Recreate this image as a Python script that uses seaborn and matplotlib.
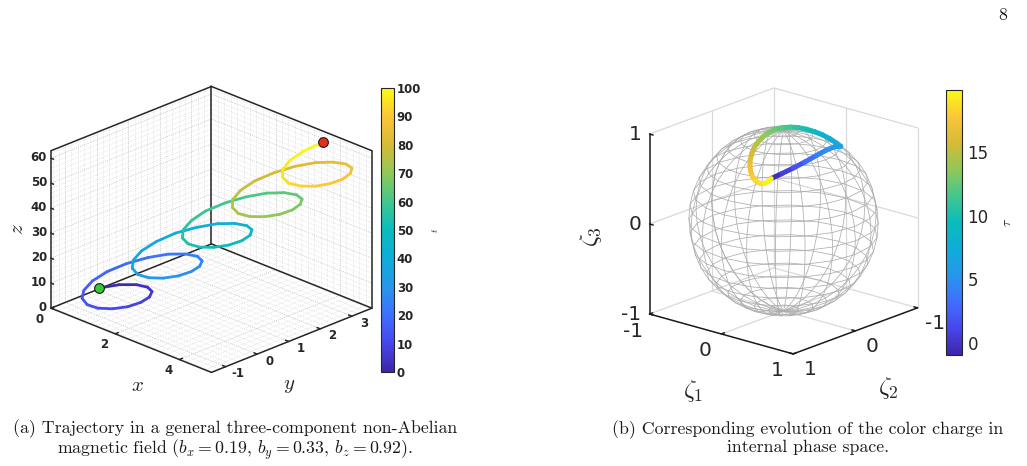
import numpy as np
import matplotlib
matplotlib.use("Agg")
import matplotlib.pyplot as plt
from matplotlib.colors import Normalize
from matplotlib.cm import ScalarMappable
from mpl_toolkits.mplot3d import proj3d
from mpl_toolkits.mplot3d.art3d import Line3DCollection
import seaborn as sns

sns.set_theme(style="white")
plt.rcParams["font.family"] = ["DejaVu Sans"]
plt.rcParams["mathtext.fontset"] = "cm"
plt.rcParams["axes.unicode_minus"] = False

traj_x = [1.18, 1.61, 2.01, 2.32, 2.50, 2.53, 2.40, 2.15, 1.81, 1.44, 1.11, 0.87, 0.76, 0.80, 0.99, 1.31,
          1.72, 2.15, 2.56, 2.87, 3.06, 3.09, 2.97, 2.72, 2.39, 2.02, 1.69, 1.44, 1.32, 1.35, 1.54, 1.85,
          2.26, 2.69, 3.10, 3.42, 3.61, 3.65, 3.54, 3.29, 2.96, 2.60, 2.26, 2.01, 1.88, 1.91, 2.08, 2.40,
          2.80, 3.23, 3.64, 3.97, 4.17, 4.21, 4.11, 3.87, 3.54, 3.17, 2.83, 2.58, 2.44, 2.46, 2.63, 2.94,
          3.34, 3.77, 4.18, 4.51, 4.72, 4.77, 4.68, 4.44, 4.12, 3.75, 3.41, 3.15, 3.01, 3.02, 3.18, 3.48]
traj_y = [-1.13, -0.92, -0.79, -0.75, -0.79, -0.90, -1.05, -1.21, -1.34, -1.43, -1.43, -1.35, -1.18, -0.95,
          -0.67, -0.39, -0.12, 0.09, 0.22, 0.27, 0.23, 0.12, -0.03, -0.19, -0.32, -0.41, -0.42, -0.34,
          -0.18, 0.05, 0.33, 0.62, 0.88, 1.09, 1.23, 1.28, 1.25, 1.15, 1.00, 0.84, 0.70, 0.61, 0.60, 0.67,
          0.83, 1.06, 1.33, 1.62, 1.88, 2.10, 2.24, 2.30, 2.27, 2.17, 2.02, 1.86, 1.72, 1.63, 1.61, 1.68,
          1.83, 2.06, 2.33, 2.62, 2.89, 3.11, 3.25, 3.31, 3.29, 3.19, 3.04, 2.88, 2.74, 2.64, 2.62, 2.69,
          2.84, 3.06, 3.33, 3.62]
traj_z = [12.5, 15.0, 16.4, 16.8, 16.2, 14.7, 12.6, 10.4, 8.5, 7.3, 7.0, 7.9, 9.7, 12.5, 15.8, 19.2,
          22.4, 24.9, 26.4, 26.8, 26.2, 24.7, 22.7, 20.5, 18.6, 17.3, 17.0, 17.8, 19.6, 22.3, 25.6, 29.1,
          32.2, 34.8, 36.3, 36.8, 36.3, 34.8, 32.8, 30.6, 28.7, 27.4, 27.0, 27.7, 29.5, 32.2, 35.5, 38.9,
          42.1, 44.7, 46.3, 46.8, 46.3, 44.9, 42.9, 40.7, 38.8, 37.4, 37.0, 37.7, 39.4, 42.1, 45.3, 48.7,
          52.0, 54.6, 56.2, 56.8, 56.4, 55.0, 53.0, 50.8, 48.8, 47.5, 47.0, 47.6, 49.3, 51.9, 55.1, 58.6]
traj_t = [0.0, 1.3, 2.5, 3.8, 5.1, 6.3, 7.6, 8.9, 10.1, 11.4, 12.7, 13.9, 15.2, 16.5, 17.7, 19.0,
          20.3, 21.5, 22.8, 24.1, 25.3, 26.6, 27.8, 29.1, 30.4, 31.6, 32.9, 34.2, 35.4, 36.7, 38.0, 39.2,
          40.5, 41.8, 43.0, 44.3, 45.6, 46.8, 48.1, 49.4, 50.6, 51.9, 53.2, 54.4, 55.7, 57.0, 58.2, 59.5,
          60.8, 62.0, 63.3, 64.6, 65.8, 67.1, 68.4, 69.6, 70.9, 72.2, 73.4, 74.7, 75.9, 77.2, 78.5, 79.7,
          81.0, 82.3, 83.5, 84.8, 86.1, 87.3, 88.6, 89.9, 91.1, 92.4, 93.7, 94.9, 96.2, 97.5, 98.7, 100.0]
x_ticks = [0, 2, 4]
y_ticks = [-1, 0, 1, 2, 3]
z_ticks = [0, 10, 20, 30, 40, 50, 60]
t_ticks = [0, 10, 20, 30, 40, 50, 60, 70, 80, 90, 100]

# (b) colour charge on the unit sphere
zeta1 = [0.357, 0.419, 0.472, 0.506, 0.511, 0.488, 0.438, 0.380, 0.330, 0.259, 0.183, 0.114, 0.042, -0.027,
         -0.068, -0.099, -0.119, -0.106, -0.095, -0.078, -0.053, -0.021, 0.018, 0.062, 0.111, 0.167,
         0.224, 0.281, 0.322, 0.347, 0.357]
zeta2 = [0.611, 0.512, 0.387, 0.240, 0.059, -0.127, -0.318, -0.481, -0.469, -0.444, -0.410, -0.370, -0.320,
         -0.267, -0.183, -0.085, 0.010, 0.120, 0.213, 0.313, 0.405, 0.485, 0.556, 0.612, 0.658, 0.691,
         0.703, 0.700, 0.678, 0.643, 0.611]
zeta3 = [0.706, 0.750, 0.792, 0.829, 0.857, 0.864, 0.841, 0.790, 0.819, 0.858, 0.894, 0.922, 0.947, 0.963,
         0.981, 0.991, 0.993, 0.987, 0.972, 0.947, 0.913, 0.874, 0.831, 0.788, 0.745, 0.703, 0.674, 0.657,
         0.660, 0.683, 0.706]
tau = [-0.95, 0.12, 1.29, 2.48, 3.69, 4.72, 5.53, 6.07, 6.57, 7.29, 8.07, 8.80, 9.59, 10.35, 11.11, 11.87,
       12.55, 13.17, 13.73, 14.37, 15.00, 15.59, 16.18, 16.73, 17.27, 17.82, 18.29, 18.75, 19.14, 19.56, 19.90]
zeta_ticks = [-1, 0, 1]
tau_ticks = [0, 5, 10, 15]

parula = sns.blend_palette([(0.242, 0.150, 0.660), (0.280, 0.278, 0.922), (0.244, 0.436, 0.999),
                            (0.154, 0.590, 0.922), (0.060, 0.680, 0.850), (0.040, 0.735, 0.740),
                            (0.260, 0.780, 0.560), (0.560, 0.785, 0.350), (0.840, 0.735, 0.210),
                            (0.990, 0.770, 0.220), (0.977, 0.984, 0.081)], n_colors=256, as_cmap=True)

fig = plt.figure(figsize=(10.27, 4.66), dpi=100)
labels = []


def line(ax, p, q, **kw):
    ax.plot([p[0], q[0]], [p[1], q[1]], [p[2], q[2]], **kw)


def lab(ax, p, s, dx, dy, **kw):
    labels.append((ax, p, s, dx, dy, kw))


def colored(ax, xs, ys, zs, c, norm, lw):
    pts = np.column_stack([xs, ys, zs])
    segs = np.stack([pts[:-1], pts[1:]], axis=1)
    lc = Line3DCollection(segs, cmap=parula, norm=norm, linewidths=lw, capstyle="round")
    lc.set_array((np.asarray(c)[:-1] + np.asarray(c)[1:]) / 2)
    ax.add_collection3d(lc)


# ---------------- (a) trajectory ----------------
x0, x1, y0, y1, zt0, zt1 = 0, 5, -1.45, 3.64, 0, 63
ax1 = fig.add_axes([0.0292, 0.1182, 0.3441, 0.7584], projection="3d", proj_type="ortho")
ax1.view_init(elev=23.6, azim=-45)
ax1.set_box_aspect((1, 1, 0.757))
ax1.computed_zorder = False
ax1.set_axis_off()

minor = dict(color="0.84", lw=0.5, ls=(0, (1, 1.5)))
major = dict(color="0.74", lw=0.5, ls=(0, (1.5, 1.5)))
for gx in np.arange(0, 5.01, 0.2):
    st = major if abs(gx - round(gx / 2) * 2) < 1e-6 else minor
    line(ax1, (gx, y0, 0), (gx, y1, 0), **st)
    line(ax1, (gx, y1, 0), (gx, y1, zt1), **st)
for gy in np.arange(-1.4, 3.61, 0.2):
    st = major if abs(gy - round(gy)) < 1e-6 else minor
    line(ax1, (x0, gy, 0), (x1, gy, 0), **st)
    line(ax1, (0, gy, 0), (0, gy, zt1), **st)
for gz in np.arange(2, 62.1, 2):
    st = major if gz % 10 == 0 else minor
    line(ax1, (0, y0, gz), (0, y1, gz), **st)
    line(ax1, (0, y1, gz), (x1, y1, gz), **st)

edge = dict(color="0.15", lw=1.1)
for p, q in [((0, y0, 0), (0, y0, zt1)), ((0, y1, 0), (0, y1, zt1)), ((x1, y1, 0), (x1, y1, zt1)),
             ((0, y0, zt1), (0, y1, zt1)), ((0, y1, zt1), (x1, y1, zt1)),
             ((0, y0, 0), (x1, y0, 0)), ((x1, y0, 0), (x1, y1, 0)),
             ((0, y0, 0), (0, y1, 0)), ((0, y1, 0), (x1, y1, 0))]:
    line(ax1, p, q, **edge)

tick_font = dict(fontsize=8.5, fontweight="bold", color="0.15")
for v in z_ticks:
    line(ax1, (0, y0, v), (0.08, y0, v), **edge)
    lab(ax1, (0, y0, v), str(v), -4, 1, ha="right", va="center", **tick_font)
for v in x_ticks:
    line(ax1, (v, y0, 0), (v, y0 + 0.1, 0), **edge)
    lab(ax1, (v, y0, 0), str(v), -11, -11, ha="center", va="center", **tick_font)
for v in y_ticks:
    line(ax1, (x1, v, 0), (x1 - 0.1, v, 0), **edge)
    lab(ax1, (x1, v, 0), str(v), 12, -7, ha="center", va="center", **tick_font)
lab(ax1, (2.5, y0, 0), "$x$", 6, -45, ha="center", va="center", fontsize=15, color="0.15")
lab(ax1, (x1, 1.1, 0), "$y$", -3, -45, ha="center", va="center", fontsize=15, color="0.15")
lab(ax1, (0, y0, 31.5), "$z$", -34, 0, ha="center", va="center", fontsize=15, color="0.15", rotation=90)

norm1 = Normalize(0, 100)
colored(ax1, traj_x, traj_y, traj_z, traj_t, norm1, 2.0)
ax1.plot(traj_x[:1], traj_y[:1], traj_z[:1], "o", ms=7, mfc=(0.22, 0.78, 0.22), mec="0.1", mew=0.8)
ax1.plot(traj_x[-1:], traj_y[-1:], traj_z[-1:], "o", ms=7, mfc=(0.90, 0.18, 0.12), mec="0.1", mew=0.8)
ax1.set_xlim(x0, x1); ax1.set_ylim(y0, y1); ax1.set_zlim(zt0, zt1)

cax1 = fig.add_axes([0.371, 0.2017, 0.01266, 0.6094])
cb1 = fig.colorbar(ScalarMappable(norm1, parula), cax=cax1, ticks=t_ticks)
cb1.outline.set_linewidth(0.8)
cax1.tick_params(direction="in", length=3, width=0.6, pad=2, labelsize=8.5, colors="0.15")
for tl in cax1.get_yticklabels():
    tl.set_fontweight("bold")
cb1.set_label("$t$", fontsize=7, rotation=90, labelpad=6)

# ---------------- (b) colour charge ----------------
ax2 = fig.add_axes([0.6032, 0.1738, 0.3111, 0.6856], projection="3d", proj_type="ortho")
ax2.view_init(elev=18.7, azim=-49.1)
ax2.set_box_aspect((1, 1, 1))
ax2.computed_zorder = False
ax2.set_axis_off()

grey = dict(color="0.85", lw=0.9)
for p, q in [((-1, 0, -1), (-1, 0, 1)), ((-1, 1, 0), (-1, -1, 0)), ((-1, 1, 1), (-1, -1, 1)),
             ((-1, -1, -1), (-1, -1, 1)), ((0, -1, -1), (0, -1, 1)), ((-1, -1, 0), (1, -1, 0)),
             ((-1, -1, 1), (1, -1, 1)), ((1, -1, -1), (1, -1, 1)), ((0, 1, -1), (0, -1, -1)),
             ((-1, 0, -1), (1, 0, -1)), ((-1, 1, -1), (-1, -1, -1)), ((-1, -1, -1), (1, -1, -1))]:
    line(ax2, p, q, **grey)
ax_edge = dict(color="0.1", lw=1.1)
line(ax2, (-1, 1, -1), (-1, 1, 1), **ax_edge)
line(ax2, (-1, 1, -1), (1, 1, -1), **ax_edge)
line(ax2, (1, 1, -1), (1, -1, -1), **ax_edge)

# reference unit sphere (20 x 20 mesh)
az = np.linspace(-np.pi, np.pi, 21)
el = np.linspace(-np.pi / 2, np.pi / 2, 21)
ax2.plot_wireframe(np.outer(np.cos(el), np.cos(az)), np.outer(np.cos(el), np.sin(az)),
                   np.outer(np.sin(el), np.ones_like(az)), color="0.68", lw=0.55)

big = dict(fontsize=14.5, color="0.15")
for v in zeta_ticks:
    line(ax2, (-1, 1, v), (-0.95, 1, v), **ax_edge)
    lab(ax2, (-1, 1, v), str(v), -8, 0, ha="right", va="center", **big)
    line(ax2, (v, 1, -1), (v, 0.95, -1), **ax_edge)
    lab(ax2, (v, 1, -1), str(v), -16, -17, ha="center", va="center", **big)
    line(ax2, (1, v, -1), (0.95, v, -1), **ax_edge)
    lab(ax2, (1, v, -1), str(v), 17, -16, ha="center", va="center", **big)
lab(ax2, (0, 1, -1), r"$\zeta_1$", -28, -57, ha="center", va="center", fontsize=18, color="0.15")
lab(ax2, (1, 0, -1), r"$\zeta_2$", 33, -57, ha="center", va="center", fontsize=18, color="0.15")
lab(ax2, (-1, 1, 0), r"$\zeta_3$", -59, -13, ha="center", va="center", fontsize=18, color="0.15", rotation=90)

norm2 = Normalize(-0.95, 19.9)
colored(ax2, zeta1, zeta2, zeta3, tau, norm2, 3.6)
ax2.set_xlim(-1, 1); ax2.set_ylim(1, -1); ax2.set_zlim(-1, 1)

cax2 = fig.add_axes([0.9211, 0.2382, 0.01558, 0.5687])
cb2 = fig.colorbar(ScalarMappable(norm2, parula), cax=cax2, ticks=tau_ticks)
cb2.outline.set_linewidth(0.8)
cax2.tick_params(direction="in", length=3, width=0.6, pad=4, labelsize=12, colors="0.15")
cb2.set_label(r"$\tau$", fontsize=10, rotation=90, labelpad=8)

# ---------------- captions ----------------
cap = dict(fontsize=12.8, family="cmr10", ha="center", va="center", multialignment="center",
           linespacing=1.0, color="0.1")
fig.text(235 / 1027, 1 - 440.5 / 466,
         "(a) Trajectory in a general three-component non-Abelian\n"
         "magnetic field ($b_x = 0.19$, $b_y = 0.33$, $b_z = 0.92$).", **cap)
fig.text(808 / 1027, 1 - 437.5 / 466,
         "(b) Corresponding evolution of the color charge in\ninternal phase space.", **cap)
fig.text(1003 / 1027, 1 - 15 / 466, "8", **cap)

# tick and axis labels sit at projected 3D points
fig.canvas.draw()
for ax, p, s, dx, dy, kw in labels:
    px, py, _ = proj3d.proj_transform(p[0], p[1], p[2], ax.get_proj())
    ax.annotate(s, (px, py), xytext=(dx, dy), textcoords="offset pixels", annotation_clip=False, **kw)

fig.savefig("out.png", dpi=100)
